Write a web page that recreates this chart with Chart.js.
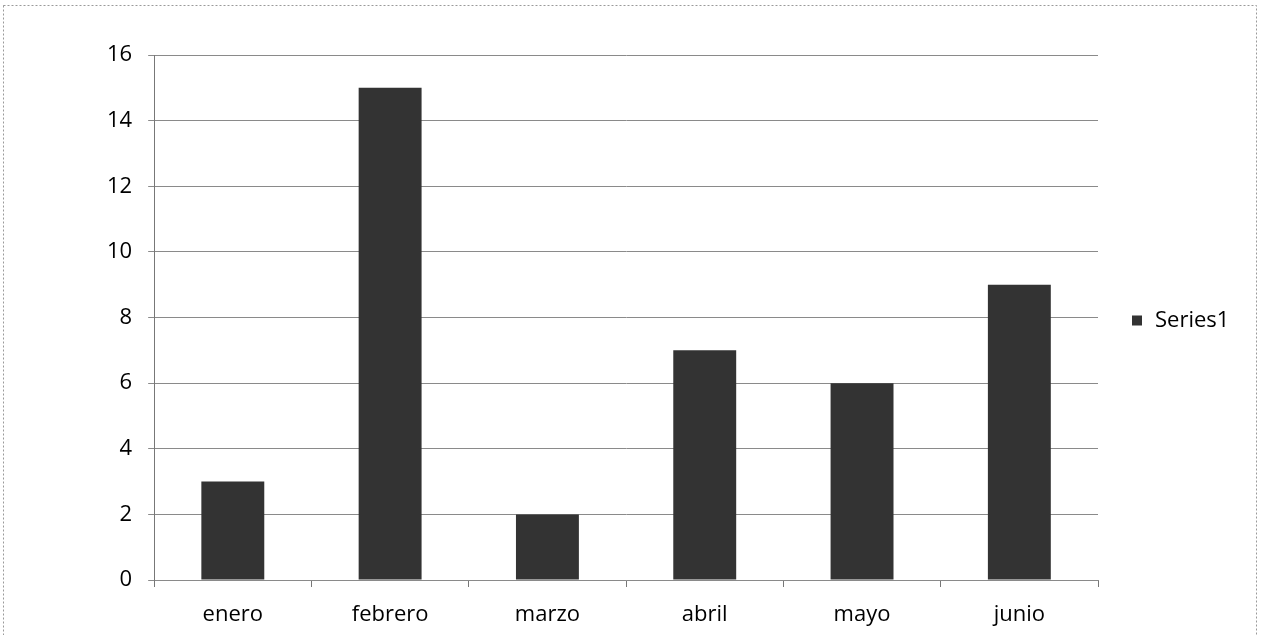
<!DOCTYPE html>
<html>
<head>
<meta charset="utf-8">
<script src="https://cdn.jsdelivr.net/npm/chart.js@4/dist/chart.umd.min.js"></script>
<style>
  html, body { margin: 0; padding: 0; background: #fff; }
  #wrap { width: 1261px; height: 635px; position: relative; }
</style>
</head>
<body>
<div id="wrap"><canvas id="chart"></canvas></div>
<script>
// 데이터
const months = ['enero', 'febrero', 'marzo', 'abril', 'mayo', 'junio'];
const series1 = [3, 15, 2, 7, 6, 9];
const seriesName = 'Series1';
const yMax = 16;
const yStep = 2;

const barColor = '#333333';
const gridColor = '#8a8a8a';
const fontFamily = '"Open Sans", sans-serif';

// 바깥 점선 테두리
const framePlugin = {
	id: 'frame',
	beforeDraw(chart) {
		const ctx = chart.ctx;
		ctx.save();
		ctx.strokeStyle = '#9a9a9a';
		ctx.lineWidth = 1;
		ctx.setLineDash([2, 2]);
		ctx.strokeRect(3.5, 5.5, 1253, 640);
		ctx.restore();
	}
};

// 오른쪽 범례 (엑셀 스타일)
const legendPlugin = {
	id: 'sideLegend',
	afterDraw(chart) {
		const ctx = chart.ctx;
		const ds = chart.data.datasets[0];
		const area = chart.chartArea;
		const x = area.right + 34;
		const y = (area.top + area.bottom) / 2 + 3;
		ctx.save();
		ctx.fillStyle = ds.backgroundColor;
		ctx.fillRect(x, y - 5, 10, 10);
		ctx.fillStyle = '#000';
		ctx.font = '22px ' + fontFamily;
		ctx.textBaseline = 'middle';
		ctx.textAlign = 'left';
		ctx.fillText(ds.label, x + 23, y);
		ctx.restore();
	}
};

const ctx = document.getElementById('chart').getContext('2d');
new Chart(ctx, {
	type: 'bar',
	data: {
		labels: months,
		datasets: [{
			label: seriesName,
			data: series1,
			backgroundColor: barColor,
			borderWidth: 0,
			categoryPercentage: 1,
			barPercentage: 0.4
		}]
	},
	options: {
		responsive: true,
		maintainAspectRatio: false,
		animation: false,
		layout: {
			padding: { left: 91, right: 163, top: 55, bottom: 0 }
		},
		plugins: {
			legend: { display: false },
			tooltip: { enabled: false }
		},
		scales: {
			x: {
				afterFit(scale) {
					// x축 높이 고정
					scale.height = 55;
				},
				grid: {
					drawOnChartArea: false,
					color: '#777',
					tickLength: 7,
					offset: true
				},
				border: { color: gridColor, width: 1 },
				ticks: {
					color: '#000',
					font: { family: fontFamily, size: 22 },
					padding: 15
				}
			},
			y: {
				min: 0,
				max: yMax,
				ticks: {
					stepSize: yStep,
					color: '#000',
					font: { family: fontFamily, size: 22 },
					padding: 16
				},
				grid: {
					color: gridColor,
					tickLength: 6
				},
				border: { color: '#777', width: 1 }
			}
		}
	},
	plugins: [framePlugin, legendPlugin]
});
</script>
</body>
</html>
